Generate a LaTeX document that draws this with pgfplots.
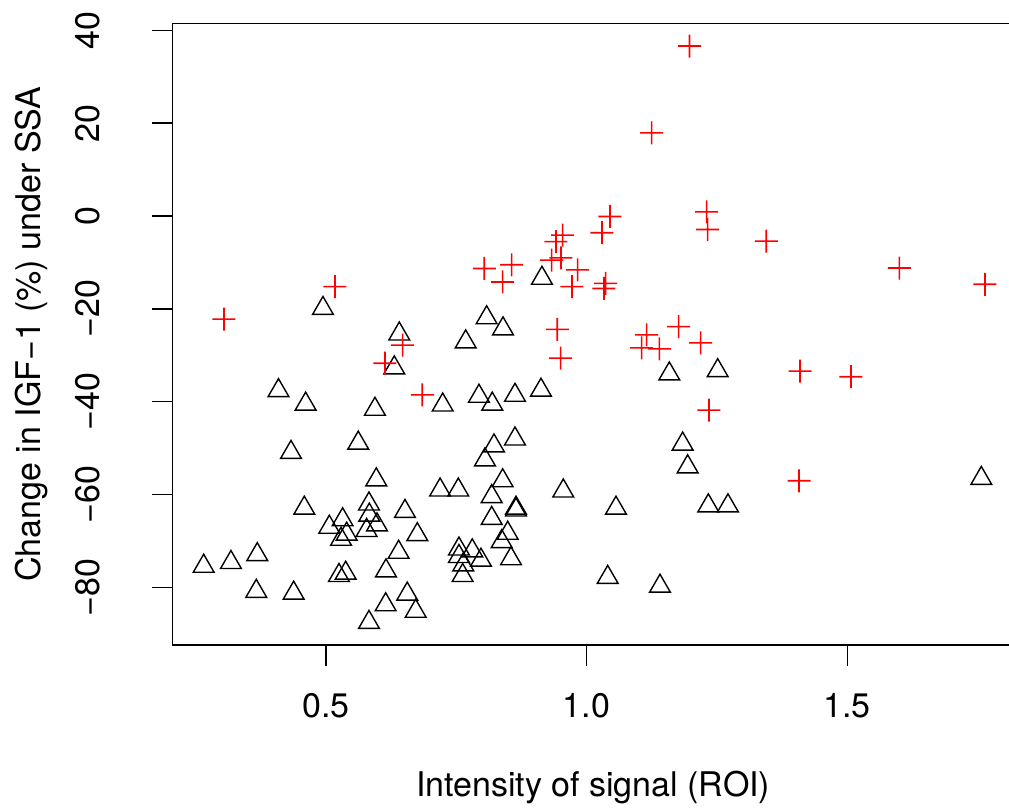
\documentclass[border=0pt]{standalone}
\usepackage{fontspec}
\setmainfont{TeX Gyre Heros}
\usepackage{pgfplots}
\pgfplotsset{compat=1.18}

% plus sign built from two filled bars
\pgfdeclareplotmark{fplus}{%
  \pgfpathrectangle{\pgfqpoint{-\pgfplotmarksize}{-0.4pt}}{\pgfqpoint{2\pgfplotmarksize}{0.8pt}}%
  \pgfpathrectangle{\pgfqpoint{-0.4pt}{-\pgfplotmarksize}}{\pgfqpoint{0.8pt}{2\pgfplotmarksize}}%
  \pgfusepathqfill}

\begin{document}
\begin{tikzpicture}
\begin{axis}[
    at={(0,0)}, anchor=south west,
    scale only axis,
    width=420.85pt, height=310.85pt,
    xmin=0.2053, xmax=1.8199,
    ymin=-92.36, ymax=41.49,
    font=\fontsize{17}{20}\selectfont,
    axis line style={line width=0.7pt},
    tick align=outside,
    major tick length=10.3pt,
    tick style={line width=0.7pt, black},
    xtick pos=left, ytick pos=left,
    xtick={0.5,1.0,1.5}, xticklabels={0.5,1.0,1.5},
    ytick={-80,-60,-40,-20,0,20,40},
    yticklabels={−80,−60,−40,−20,0,20,40},
    xticklabel style={anchor=base},
    xticklabel shift=26pt,
    yticklabel style={rotate=90, anchor=base},
    yticklabel shift=26pt,
    xlabel={Intensity of signal (ROI)},
    ylabel={Change in IGF−1 (\%) under SSA},
    xlabel style={at={([yshift=-75.5pt]axis description cs:0.5,0)}, anchor=base},
    ylabel style={at={([xshift=-66pt]axis description cs:0,0.5)}, anchor=base},
]
\addplot[black, only marks, mark=triangle, mark size=6pt,
    mark options={solid, draw=black, fill=none, line width=0.7pt}] coordinates {
(0.2655,-75.4) (0.3178,-74.6) (0.3683,-72.9) (0.3664,-80.8) (0.4381,-81.2)
(0.4330,-50.9) (0.5620,-48.9) (0.5966,-56.8) (0.4585,-62.9) (0.5826,-62.0)
(0.5832,-64.4) (0.5980,-66.5) (0.5780,-67.7) (0.5065,-67.0) (0.5320,-65.4)
(0.5398,-68.5) (0.5290,-69.6) (0.6516,-63.6) (0.6753,-68.6) (0.6395,-72.4)
(0.6152,-76.4) (0.5250,-77.4) (0.5379,-76.9) (0.6560,-81.4) (0.6146,-83.7)
(0.6722,-85.1) (0.5826,-87.5) (0.4090,-37.6) (0.4611,-40.5) (0.4943,-19.9)
(0.6407,-25.4) (0.6311,-32.7) (0.5940,-41.6) (0.7190,-59.0) (0.7240,-40.7)
(0.8083,-21.9) (0.8397,-24.3) (0.7681,-27.1) (0.7936,-38.8) (0.8191,-40.5)
(0.8627,-38.6) (0.9125,-37.5) (0.8627,-48.0) (0.8224,-49.5) (0.8051,-52.5)
(0.7539,-59.0) (0.8390,-57.0) (0.8180,-60.4) (0.8646,-62.9) (0.8646,-63.3)
(0.9553,-59.2) (0.8180,-65.1) (0.8487,-68.3) (0.8372,-70.1) (0.8550,-73.8)
(0.7552,-71.7) (0.7807,-72.1) (0.7552,-73.3) (0.7974,-74.1) (0.7635,-75.1)
(0.7623,-77.4) (1.0564,-62.9) (1.0405,-77.8) (1.1408,-79.7) (1.1587,-34.0)
(1.2515,-33.3) (1.1843,-49.1) (1.1939,-54.0) (1.2335,-62.4) (1.2712,-62.4)
(0.9144,-13.4) (1.7572,-56.5)
};
\addplot[red, only marks, mark=fplus, mark size=5.75pt,
    mark options={solid, draw=none, fill=red}] coordinates {
(1.1975,36.6) (1.1249,17.9) (1.0449,-0.1) (1.0295,-3.6) (0.9541,-4.1)
(0.9413,-5.5) (0.9509,-9.0) (0.9330,-9.5) (0.8563,-10.5) (0.8038,-11.3)
(0.8390,-14.2) (0.9829,-11.6) (0.9720,-15.2) (1.0366,-14.5) (1.0334,-15.6)
(0.5174,-15.2) (1.2304,0.9) (1.2323,-2.9) (1.3447,-5.4) (1.5999,-11.2)
(1.7642,-14.7) (0.3044,-22.2) (0.6472,-27.8) (0.6133,-31.7) (0.6848,-38.5)
(0.9438,-24.4) (0.9503,-30.6) (1.1153,-25.6) (1.1057,-28.4) (1.1395,-28.6)
(1.1767,-23.8) (1.2189,-27.3) (1.2348,-41.8) (1.4075,-57.0) (1.4094,-33.4)
(1.5072,-34.6)
};
\end{axis}
\pgfresetboundingbox
\useasboundingbox (-86.15pt,-82pt) rectangle (418.35pt,322.5pt);
\end{tikzpicture}
\end{document}
